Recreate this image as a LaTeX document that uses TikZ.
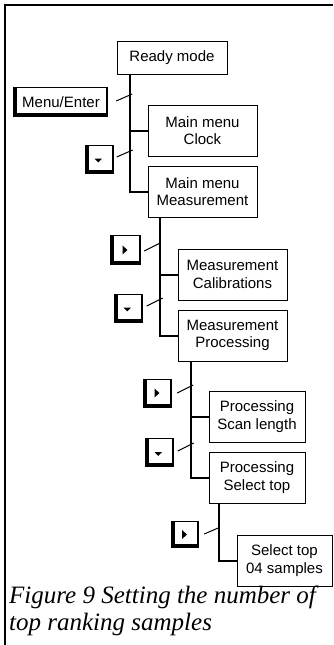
\documentclass[tikz,border=0pt]{standalone}
\usepackage{fontspec}
\setmainfont{Liberation Serif}
\newfontfamily\boxfont{Liberation Sans}
\usetikzlibrary{calc}
\tikzset{
  menubox/.style={draw, line width=1pt, fill=white, inner sep=0pt, align=center,
    font=\boxfont\fontsize{15}{17.5}\selectfont},
  keybtn/.style={fill=black, inner sep=0pt, font=\boxfont\fontsize{15}{17.5}\selectfont,
    path picture={\fill[white] ([shift={(4pt,4pt)}]path picture bounding box.south west)
      rectangle ([shift={(-2pt,-1pt)}]path picture bounding box.north east);}},
  downkey/.style={keybtn, minimum width=29pt, minimum height=29pt,
    path picture={\fill[white] ([shift={(4pt,4pt)}]path picture bounding box.south west)
      rectangle ([shift={(-2pt,-1pt)}]path picture bounding box.north east);
      \fill[black] ([shift={(-4.5pt,0.5pt)}]path picture bounding box.center) -- ++(7.5pt,0pt) -- ++(-3.75pt,-3.75pt) -- cycle;}},
  rightkey/.style={keybtn, minimum width=29pt, minimum height=29pt,
    path picture={\fill[white] ([shift={(4pt,4pt)}]path picture bounding box.south west)
      rectangle ([shift={(-2pt,-1pt)}]path picture bounding box.north east);
      \fill[black] ([shift={(-3pt,4.5pt)}]path picture bounding box.center) -- ++(0pt,-9pt) -- ++(5pt,4.5pt) -- cycle;}},
  trunk/.style={line width=2pt},
  tick/.style={line width=1pt},
  frameline/.style={line width=2pt},
}
\begin{document}
\begin{tikzpicture}[x=1pt,y=-1pt]
\useasboundingbox (0,0) rectangle (333,645);
\fill[white] (0,0) rectangle (333,645);
% frame
\draw[frameline] (4.5,645) -- (4.5,5) -- (333,5);
% menu boxes
\node[menubox, minimum width=110pt, minimum height=33pt] (ready) at (172,57.5) {Ready mode};
\node[menubox, minimum width=109pt, minimum height=51pt] (clock) at (202.5,130.5) {Main menu\\Clock};
\node[menubox, minimum width=109pt, minimum height=51pt] (meas) at (202.5,191.5) {Main menu\\Measurement};
\node[menubox, minimum width=109pt, minimum height=51pt] (calib) at (232.5,274.5) {Measurement\\Calibrations};
\node[menubox, minimum width=109pt, minimum height=51pt] (proc) at (232.5,335.5) {Measurement\\Processing};
\node[menubox, minimum width=96pt, minimum height=51pt] (scan) at (257,416.5) {Processing\\Scan length};
\node[menubox, minimum width=96pt, minimum height=51pt] (seltop) at (257,477.5) {Processing\\Select top};
\node[menubox, minimum width=95pt, minimum height=51pt] (sel04) at (284.5,560.5) {Select top\\04 samples};
% keys
\node[keybtn, minimum width=95pt, minimum height=30pt] (menu) at (60.5,102) {\hspace*{1pt}Menu/Enter};
\node[downkey] (d1) at (99,159) {};
\node[rightkey, minimum width=31pt, minimum height=30pt] (r1) at (125.5,250) {};
\node[downkey] (d2) at (128,308) {};
\node[rightkey] (r2) at (157.5,393) {};
\node[downkey] (d3) at (159,452.5) {};
\node[rightkey, minimum width=28pt, minimum height=27pt] (r3) at (185,534.5) {};
% trunks and branches
\coordinate (t1) at ($(ready.south west)+(13,0)$);
\draw[trunk] (t1) |- (meas.west);
\draw[trunk] (t1 |- clock.west) -- (clock.west);
\coordinate (t2) at ($(meas.south west)+(12,0)$);
\draw[trunk] (t2) |- (proc.west);
\draw[trunk] (t2 |- calib.west) -- (calib.west);
\coordinate (t3) at ($(proc.south west)+(13,0)$);
\draw[trunk] (t3) |- (seltop.west);
\draw[trunk] (t3 |- scan.west) -- (scan.west);
\coordinate (t4) at ($(seltop.south west)+(10,0)$);
\draw[trunk] (t4) |- (sel04.west);
% key ticks
\draw[tick] ($(menu.east)+(8,-1)$) -- ++(16,-7);
\draw[tick] ($(d1.east)+(3,-2)$) -- ++(16,-7);
\draw[tick] ($(r1.east)+(3,1)$) -- ++(16,-8);
\draw[tick] ($(d2.east)+(4,-2)$) -- ++(16,-8);
\draw[tick] ($(r2.east)+(5,0)$) -- ++(16,-8);
\draw[tick] ($(d3.east)+(4,-1.5)$) -- ++(16,-8);
\draw[tick] ($(r3.east)+(5,-0.5)$) -- ++(14,-6);
% caption
\node[anchor=base west, inner sep=0pt, align=left,
  font=\itshape\fontsize{25}{27}\selectfont] (cap) at (9,630)
  {Figure 9 Setting the number of\\top ranking samples};
\end{tikzpicture}
\end{document}
